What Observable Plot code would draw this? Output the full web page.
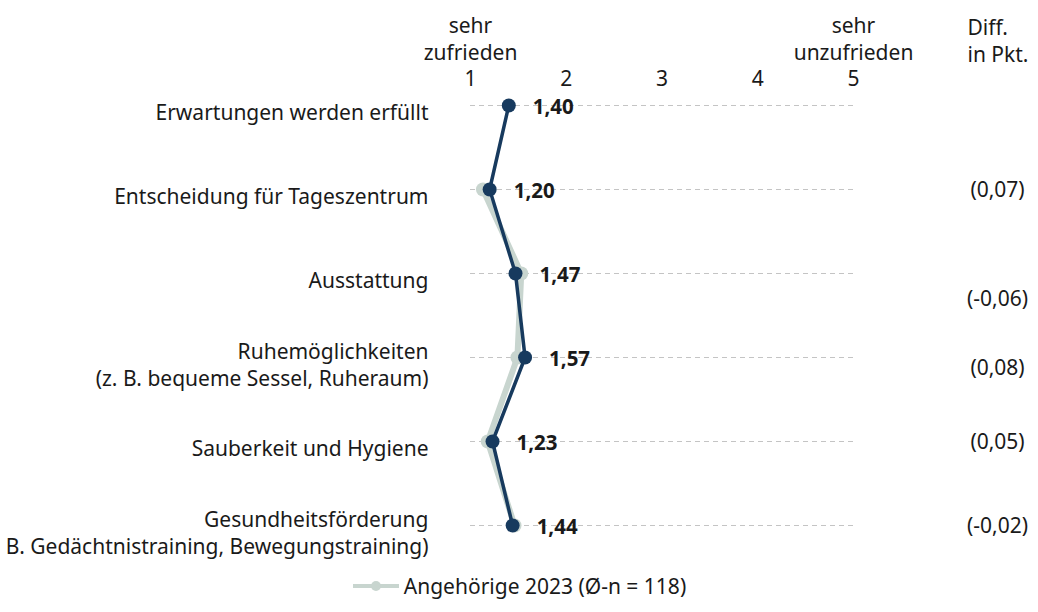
<!DOCTYPE html>
<html>
<head>
<meta charset="utf-8">
<script src="https://cdn.jsdelivr.net/npm/d3@7"></script>
<script src="https://cdn.jsdelivr.net/npm/@observablehq/plot@0.6"></script>
<style>
  html, body { margin: 0; padding: 0; background: #fff; }
  #chart svg { display: block; }
  .legend { height: 52px; display: flex; justify-content: center; align-items: center;
    font-family: "Noto Sans", "Open Sans", sans-serif; font-size: 21px; color: #1a1a1a; }
  .legend svg { margin-right: 4px; }
</style>
</head>
<body>
<div id="chart"></div>
<div class="legend">
  <svg width="48" height="14"><line x1="1" y1="7" x2="47" y2="7" stroke="#c8d5cf" stroke-width="4"/><circle cx="24" cy="7" r="5" fill="#c8d5cf"/></svg>
  <span>Angehörige 2023 (Ø-n = 118)</span>
</div>
<script>
const categories = [
  "Erwartungen werden erfüllt",
  "Entscheidung für Tageszentrum",
  "Ausstattung",
  "Ruhemöglichkeiten\n(z. B. bequeme Sessel, Ruheraum)",
  "Sauberkeit und Hygiene",
  "Gesundheitsförderung\n(z. B. Gedächtnistraining, Bewegungstraining)"
];
const values2024 = [1.40, 1.20, 1.47, 1.57, 1.23, 1.44];
const values2023 = [null, 1.13, 1.53, 1.49, 1.18, 1.46];
const diffs = ["", "(0,07)", "(-0,06)", "(0,08)", "(0,05)", "(-0,02)"];
const scaleTicks = [1, 2, 3, 4, 5];
const headers = [
  {x: 1, text: "sehr\nzufrieden"},
  {x: 5, text: "sehr\nunzufrieden"}
];

const rows = categories.map((c, i) => ({cat: c, v24: values2024[i], v23: values2023[i], diff: diffs[i]}));
const rows23 = rows.filter(d => d.v23 != null);
const fmt = v => d3.format(".2f")(v).replace(".", ",");

const dark = "#173a5e";
const gray = "#c8d5cf";
const txt = "#1a1a1a";
const fs = 21;

const plot = Plot.plot({
  width: 1038,
  height: 560,
  marginLeft: 470,
  marginRight: 185,
  marginTop: 104,
  marginBottom: 35,
  style: {fontFamily: "'Noto Sans', 'Open Sans', sans-serif", fontSize: fs + "px", color: txt, background: "#fff"},
  x: {domain: [1, 5]},
  y: {type: "point", domain: categories, padding: 0},
  marks: [
    Plot.ruleY(rows, {y: "cat", x1: 1, x2: 5, stroke: "#c4c4c4", strokeWidth: 1, strokeDasharray: "5,4"}),
    Plot.axisX({anchor: "top", ticks: scaleTicks, tickSize: 0, tickPadding: 19, label: null, fontSize: fs, tickFormat: d => String(d)}),
    Plot.axisY({anchor: "left", tickSize: 0, tickPadding: 42, label: null, fontSize: fs, lineHeight: 1.29, dy: 6}),
    Plot.text(headers, {x: "x", text: "text", frameAnchor: "top", dy: -67, lineAnchor: "middle", lineHeight: 1.29, fontSize: fs, fill: txt}),
    Plot.text(["Diff.\nin Pkt."], {frameAnchor: "top-right", dx: 114, dy: -65, lineAnchor: "middle", textAnchor: "start", lineHeight: 1.29, fontSize: fs, fill: txt}),
    Plot.line(rows23, {x: "v23", y: "cat", stroke: gray, strokeWidth: 6}),
    Plot.dot(rows23, {x: "v23", y: "cat", r: 7, fill: gray}),
    Plot.line(rows, {x: "v24", y: "cat", stroke: dark, strokeWidth: 3.5}),
    Plot.dot(rows, {x: "v24", y: "cat", r: 7, fill: dark}),
    Plot.text(rows, {x: "v24", y: "cat", text: d => fmt(d.v24), dx: 24, dy: 2, textAnchor: "start", fontWeight: "bold", fontSize: 20.5, fill: txt}),
    Plot.text(rows.filter(d => d.cat !== "Ausstattung" && !d.cat.startsWith("Ruhe")), {y: "cat", text: "diff", frameAnchor: "right", dx: 144, dy: 1, textAnchor: "middle", fontSize: fs, fill: txt}),
    Plot.text(rows.filter(d => d.cat === "Ausstattung"), {y: "cat", text: "diff", frameAnchor: "right", dx: 144, dy: 26, textAnchor: "middle", fontSize: fs, fill: txt}),
    Plot.text(rows.filter(d => d.cat.startsWith("Ruhe")), {y: "cat", text: "diff", frameAnchor: "right", dx: 144, dy: 11, textAnchor: "middle", fontSize: fs, fill: txt})
  ]
});
document.getElementById("chart").appendChild(plot);
</script>
</body>
</html>
